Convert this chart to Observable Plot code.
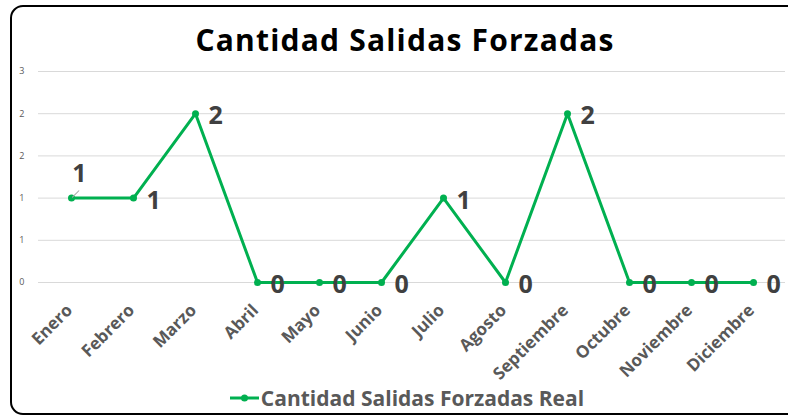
<!DOCTYPE html>
<html>
<head>
<meta charset="utf-8">
<script src="https://cdn.jsdelivr.net/npm/d3@7"></script>
<script src="https://cdn.jsdelivr.net/npm/@observablehq/plot@0.6"></script>
<style>
  html, body { margin: 0; padding: 0; background: #fff; overflow: hidden; }
  #wrap { position: relative; width: 788px; height: 419px; overflow: hidden; font-family: "Open Sans", sans-serif; }
  #frame { position: absolute; left: 0; top: 0; }
  #title { position: absolute; left: 11px; width: 788px; top: 20px; text-align: center; font-weight: bold; font-size: 30px; letter-spacing: 1.2px; color: #000; line-height: 40px; }
  #chart { position: absolute; left: 0; top: 55px; }
  #legend { position: absolute; left: 13px; width: 788px; top: 383px; text-align: center; font-weight: bold; font-size: 21px; color: #595959; line-height: 30px; white-space: nowrap; }
  #legend svg { vertical-align: middle; margin-right: 2px; position: relative; top: -2px; }
</style>
</head>
<body>
<div id="wrap">
  <svg id="frame" width="788" height="419"><path d="M 800 6 H 23 A 12 12 0 0 0 11 18 V 402 A 12 12 0 0 0 23 414 H 800" fill="none" stroke="#000" stroke-width="2"/></svg>
  <div id="title">Cantidad Salidas Forzadas</div>
  <div id="chart"></div>
  <div id="legend"><svg width="29" height="10"><line x1="0" y1="5" x2="29" y2="5" stroke="#00B050" stroke-width="3"/><circle cx="14.5" cy="5" r="3.5" fill="#00B050"/></svg>Cantidad Salidas Forzadas Real</div>
</div>
<script>
const months = ["Enero", "Febrero", "Marzo", "Abril", "Mayo", "Junio", "Julio", "Agosto", "Septiembre", "Octubre", "Noviembre", "Diciembre"];
const values = [1, 1, 2, 0, 0, 0, 1, 0, 2, 0, 0, 0];
const yTicks = [0, 0.5, 1, 1.5, 2, 2.5];

const data = months.map((m, i) => ({month: m, value: values[i]}));
const first = data.slice(0, 1);
const rest = data.slice(1);

const leader = {draw(context, l) { context.moveTo(0, 0); context.lineTo(0, -l); }};

const plot = Plot.plot({
  width: 788,
  height: 328,
  marginTop: 16,
  marginBottom: 101,
  marginLeft: 38,
  marginRight: 3,
  style: {fontFamily: "Open Sans, sans-serif", background: "transparent"},
  x: {type: "point", domain: months, padding: 0.5, axis: null},
  y: {domain: [0, 2.5], axis: null},
  marks: [
    Plot.gridY(yTicks, {stroke: "#d9d9d9", strokeOpacity: 1, strokeWidth: 1}),
    Plot.axisY(yTicks, {tickSize: 0, tickPadding: 14, tickFormat: d => Math.round(d), fontSize: 9, fill: "#595959", label: null}),
    Plot.lineY(data, {x: "month", y: "value", stroke: "#00B050", strokeWidth: 3}),
    Plot.dot(data, {x: "month", y: "value", r: 3.5, fill: "#00B050"}),
    Plot.text(rest, {x: "month", y: "value", text: "value", dx: 13, dy: 2.5, textAnchor: "start", fontSize: 25, fontWeight: "bold", fill: "#404040"}),
    Plot.text(first, {x: "month", y: "value", text: "value", dx: 8, dy: -24, textAnchor: "middle", fontSize: 25, fontWeight: "bold", fill: "#404040"}),
    Plot.vector(first, {x: "month", y: "value", length: 9, rotate: 45, anchor: "start", shape: leader, stroke: "#a6a6a6", strokeWidth: 1, dx: 1, dy: -1}),
    Plot.text(months, {x: d => d, frameAnchor: "bottom", dy: 25, dx: -2, rotate: -45, textAnchor: "end", lineAnchor: "middle", fontSize: 17, fontWeight: "bold", fill: "#595959"})
  ]
});
document.getElementById("chart").appendChild(plot);
</script>
</body>
</html>
